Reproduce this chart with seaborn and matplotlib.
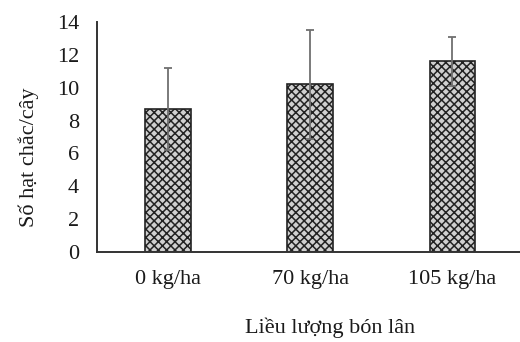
import matplotlib
matplotlib.use("Agg")
import matplotlib.pyplot as plt
import seaborn as sns
import pandas as pd

doses = ["0 kg/ha", "70 kg/ha", "105 kg/ha"]
seeds = [8.7, 10.2, 11.6]
errors = [2.5, 3.3, 1.5]

df = pd.DataFrame({"dose": doses, "seeds": seeds})

sns.set_style("white")
plt.rcParams["font.family"] = ["Liberation Serif", "DejaVu Serif"]
plt.rcParams["hatch.color"] = "#4a4a4a"
plt.rcParams["hatch.linewidth"] = 1.1

fig = plt.figure(figsize=(5.2, 3.42), dpi=100)
ax = fig.add_axes([0.1865, 0.263, 0.82, 0.6727])

sns.barplot(data=df, x="dose", y="seeds", errorbar=None, width=0.32,
            color="#d0d0d0", edgecolor="#222222", linewidth=1.2,
            hatch="xxxx", ax=ax)

# error bars drawn separately from the stored values
ax.errorbar(range(len(doses)), seeds, yerr=errors, fmt="none",
            ecolor="#707070", elinewidth=1.3, capsize=3, capthick=1.3)

ax.set_ylim(0, 14)
ax.set_xlim(-0.5, 2.5)
ax.set_yticks(range(0, 15, 2))
ax.tick_params(axis="both", length=0, labelsize=16, colors="#1a1a1a")
ax.tick_params(axis="y", pad=13)
ax.tick_params(axis="x", pad=13)

for s in ["top", "right"]:
    ax.spines[s].set_visible(False)
for s in ["left", "bottom"]:
    ax.spines[s].set_color("#333333")
    ax.spines[s].set_linewidth(1.4)

ax.set_ylabel("Số hạt chắc/cây", fontsize=16, color="#1a1a1a")
ax.yaxis.set_label_coords(-0.137, 0.41)
ax.set_xlabel("Liều lượng bón lân", fontsize=16, color="#1a1a1a")
ax.xaxis.set_label_coords(0.546, -0.285)

fig.savefig("out.png", dpi=100)
